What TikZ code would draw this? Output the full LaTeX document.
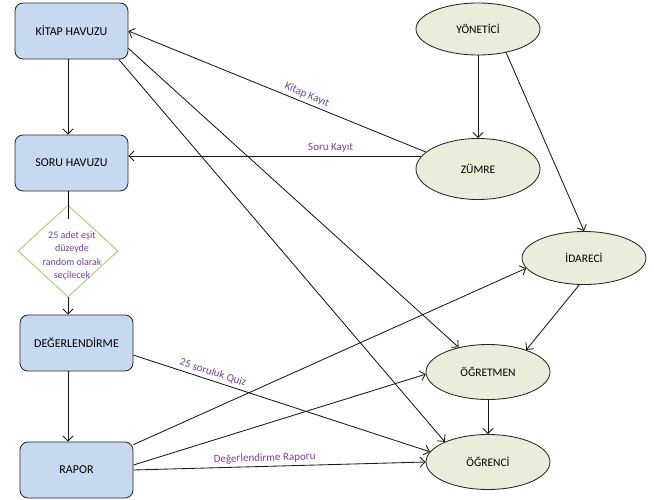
\documentclass[tikz,border=0pt]{standalone}
\usepackage{fontspec}
\setmainfont{Carlito}
\usetikzlibrary{shapes.geometric,arrows.meta}
\definecolor{kutumavi}{HTML}{C6D9F1}
\definecolor{roleksi}{HTML}{EBEDDB}
\definecolor{yesil}{HTML}{9CD46C}
\definecolor{mor}{HTML}{7A3FA8}
\begin{document}
\begin{tikzpicture}[x=1pt,y=-1pt,line width=0.85pt,
	kutu/.style={draw=black!85,fill=kutumavi,rounded corners=8pt,minimum width=113pt,minimum height=56pt,inner sep=0pt,font=\fontsize{12}{14}\selectfont},
	rol/.style={ellipse,draw=black!85,fill=roleksi,minimum width=124pt,minimum height=55pt,inner sep=0pt,font=\fontsize{11.5}{14}\selectfont},
	ok/.style={-{Straight Barb[length=5pt,width=10pt]},draw=black!90},
	etiket/.style={text=mor,font=\fontsize{11}{13}\selectfont,sloped,above,inner sep=3pt}]
			\useasboundingbox (0,0) rectangle (654,499);
			\node[kutu] (kitap) at (71.5,31) {KİTAP HAVUZU};
			\node[kutu] (soru) at (71.5,163) {SORU HAVUZU};
			\node[diamond,draw=yesil,fill=white,minimum width=100pt,minimum height=92pt,inner sep=0pt] (karar) at (68,251) {};
			\node[text=mor,align=center,font=\fontsize{10}{13.5}\selectfont] (kararyazi) at (72,256) {25 adet eşit\\düzeyde\\random olarak\\seçilecek};
			\node[kutu] (deger) at (76.5,343) {DEĞERLENDİRME};
			\node[kutu] (rapor) at (76.5,470) {RAPOR};
			\node[rol,minimum height=52pt] (yonetici) at (478,29) {YÖNETİCİ};
			\node[rol,minimum height=61pt] (zumre) at (478,169) {ZÜMRE};
			\node[rol,minimum height=53pt] (idareci) at (584,258) {İDARECİ};
			\node[rol] (ogretmen) at (488,372) {ÖĞRETMEN};
			\node[rol] (ogrenci) at (488,462) {ÖĞRENCİ};
			\draw[ok] (kitap.south -| karar.north) -- (soru.north -| karar.north);
			\draw (soru.south -| karar.north) -- ([yshift=-14pt]karar.north);
			\draw[ok] (karar.south) -- (deger.north -| karar.south);
			\draw[ok] (deger.south -| karar.south) -- (rapor.north -| karar.south);
			\draw[ok] (zumre.162) -- (kitap.east) node[etiket,pos=0.41] {Kitap Kayıt};
			\draw[ok] (zumre.167) -- (zumre.167 -| soru.east) node[etiket,pos=0.31] {Soru Kayıt};
			\draw[ok] (yonetici.south) -- (zumre.north);
			\draw[ok] (yonetici.-40) -- (idareci.north);
			\draw[ok] (kitap.-17) -- (ogretmen.140);
			\draw[ok] (kitap.-31) -- (ogrenci.155);
			\draw[ok] (deger.-12) -- (ogrenci.170) node[etiket,pos=0.26] {25 soruluk Quiz};
			\draw[ok] (rapor.24) -- (idareci.190);
			\draw[ok] (rapor.5) -- (ogretmen.182);
			\draw[ok] (rapor.east) -- (ogrenci.west) node[etiket,pos=0.45] {Değerlendirme Raporu};
			\draw[ok] (idareci.-100) -- (ogretmen.30);
			\draw[ok] (ogretmen.south) -- (ogrenci.north);
		\end{tikzpicture}
\end{document}
